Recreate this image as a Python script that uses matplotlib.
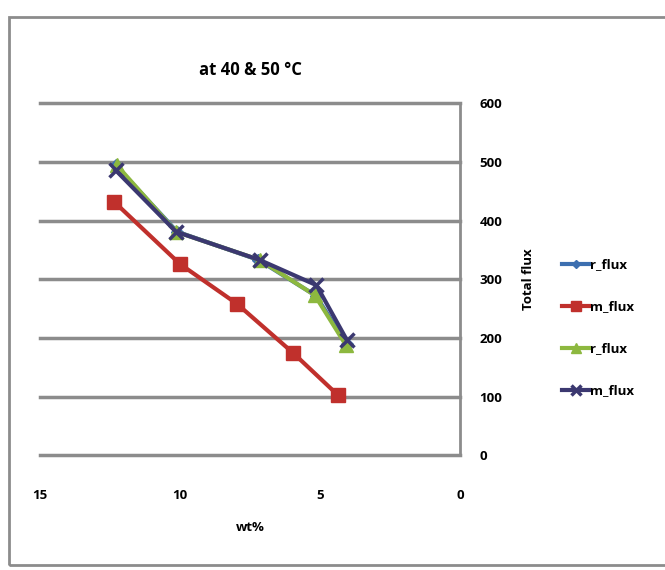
import matplotlib
matplotlib.use("Agg")
import matplotlib.pyplot as plt
from matplotlib.patches import Rectangle

plt.rcParams['font.family'] = ['Open Sans', 'DejaVu Sans']
plt.rcParams['font.weight'] = 'bold'
plt.rcParams['axes.titleweight'] = 'bold'
plt.rcParams['axes.labelweight'] = 'bold'

wt_r1 = [12.3, 10.1, 7.2, 5.15, 4.05]
r_flux1 = [494, 381, 333, 272, 190]
wt_m1 = [12.35, 10.0, 7.96, 5.95, 4.37]
m_flux1 = [432, 326, 258, 174, 103]
wt_r2 = [12.25, 10.14, 7.16, 5.19, 4.08]
r_flux2 = [494, 381, 333, 273, 188]
wt_m2 = [12.3, 10.14, 7.16, 5.13, 4.05]
m_flux2 = [486, 381, 333, 290, 197]

series_labels = ['r_flux', 'm_flux', 'r_flux', 'm_flux']
x_ticks = [15, 10, 5, 0]
y_ticks = [0, 100, 200, 300, 400, 500, 600]

fig = plt.figure(figsize=(6.65, 5.7), dpi=100)
ax = fig.add_axes([0.060, 0.201, 0.632, 0.618])

ax.plot(wt_r1, r_flux1, color='#3d6fb0', lw=3, marker='D', ms=6, label=series_labels[0], zorder=3)
ax.plot(wt_m1, m_flux1, color='#c0302c', lw=3, marker='s', ms=10, label=series_labels[1], zorder=4)
ax.plot(wt_r2, r_flux2, color='#8db83f', lw=3, marker='^', ms=10, label=series_labels[2], zorder=5)
ax.plot(wt_m2, m_flux2, color='#3b3870', lw=3, marker='x', ms=10, mew=2.5, label=series_labels[3], zorder=6)

ax.set_xlim(15, 0)
ax.set_ylim(0, 600)
ax.set_xticks(x_ticks)
ax.set_yticks(y_ticks)
ax.yaxis.tick_right()
ax.yaxis.set_label_position('right')
ax.grid(axis='y', color='#8c8c8c', lw=2.5)
for gl in ax.get_ygridlines():
    gl.set_clip_on(False)
ax.set_axisbelow(True)
for s in ['top', 'left', 'bottom']:
    ax.spines[s].set_visible(False)
ax.spines['right'].set_color('#8c8c8c')
ax.spines['right'].set_linewidth(2)
ax.tick_params(axis='both', length=0, labelsize=9.5, pad=14)
ax.tick_params(axis='x', pad=24)

ax.set_xlabel('wt%', fontsize=9.5, labelpad=14)
ax.set_ylabel('Total flux', fontsize=9.5, labelpad=14)
ax.set_title('at 40 & 50 °C', fontsize=12, pad=20)

leg = ax.legend(loc='center left', bbox_to_anchor=(1.215, 0.362), frameon=False,
                fontsize=9.5, handlelength=2.0, handletextpad=0.1, labelspacing=2.2,
                markerscale=0.7)

fig.patches.append(Rectangle((0.014, 0.008), 0.99, 0.962, transform=fig.transFigure,
                             fill=False, edgecolor='#8c8c8c', lw=2))

fig.savefig('out.png', dpi=100)
